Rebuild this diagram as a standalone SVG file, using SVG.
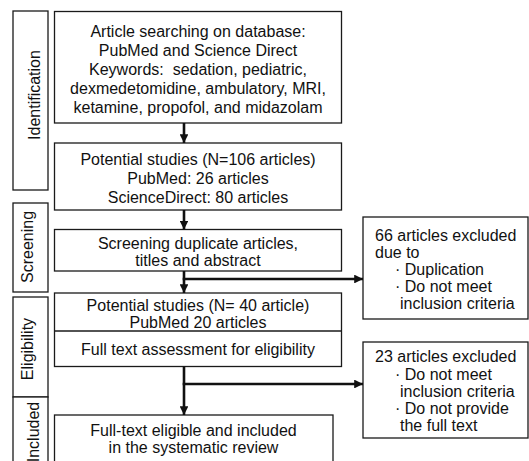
<svg xmlns="http://www.w3.org/2000/svg" width="529" height="461" viewBox="0 0 529 461">
<style>
.box{fill:#fff;stroke:#1a1a1a;stroke-width:1.3}
.t{font-family:"Liberation Sans",Arial,sans-serif;font-size:16px;fill:#111}
.c{text-anchor:middle}
.conn{stroke:#111;stroke-width:2.6;fill:none}
</style>
<defs>
<marker id="ah" viewBox="0 0 10 10" refX="10" refY="5" markerWidth="3.4" markerHeight="3.4" orient="auto" markerUnits="strokeWidth">
<path d="M0,0 L10,5 L0,10 Z" fill="#111"/>
</marker>
</defs>
<rect width="529" height="461" fill="#fff"/>

<g id="stage-identification">
<rect class="box" x="13" y="11" width="35" height="179"/>
<text class="t c" transform="translate(40,95) rotate(-90)">Identification</text>
</g>
<g id="stage-screening">
<rect class="box" x="13" y="203" width="35" height="89"/>
<text class="t c" transform="translate(33,247) rotate(-90)">Screening</text>
</g>
<g id="stage-eligibility">
<rect class="box" x="13" y="297" width="35" height="100"/>
<text class="t c" transform="translate(33,349) rotate(-90)">Eligibility</text>
</g>
<g id="stage-included">
<rect class="box" x="13" y="397" width="35" height="80"/>
<text class="t c" transform="translate(39,432) rotate(-90)">Included</text>
</g>

<g id="search">
<rect class="box" x="54.5" y="11.5" width="287" height="111.5"/>
<text class="t c" x="198" y="36.5">Article searching on database:</text>
<text class="t c" x="198" y="55.5">PubMed and Science Direct</text>
<text class="t c" x="198" y="74.5" xml:space="preserve">Keywords:  sedation, pediatric,</text>
<text class="t c" x="198" y="93.5">dexmedetomidine, ambulatory, MRI,</text>
<text class="t c" x="198" y="112.5">ketamine, propofol, and midazolam</text>
</g>

<g id="potential106">
<rect class="box" x="54.5" y="143" width="287" height="67"/>
<text class="t c" x="198" y="165">Potential studies (N=106 articles)</text>
<text class="t c" x="198" y="184">PubMed: 26 articles</text>
<text class="t c" x="198" y="203">ScienceDirect: 80 articles</text>
</g>

<g id="screening">
<rect class="box" x="54.5" y="229.5" width="287" height="41.5"/>
<text class="t c" x="198" y="248.5">Screening duplicate articles,</text>
<text class="t c" x="198" y="265.5">titles and abstract</text>
</g>

<g id="potential40">
<rect class="box" x="54.5" y="293" width="287" height="73.5"/>
<line x1="54.5" y1="331" x2="341.5" y2="331" stroke="#1a1a1a" stroke-width="1.3"/>
<text class="t c" x="198" y="311">Potential studies (N= 40 article)</text>
<text class="t c" x="198" y="327.5">PubMed 20 articles</text>
<text class="t c" x="198" y="355">Full text assessment for eligibility</text>
</g>

<g id="included">
<rect class="box" x="54.5" y="415" width="278.5" height="60"/>
<text class="t c" x="193.5" y="436">Full-text eligible and included</text>
<text class="t c" x="193.5" y="453">in the systematic review</text>
</g>

<g id="excluded66">
<rect class="box" x="363" y="217" width="165" height="102"/>
<text class="t" x="375" y="240.5">66 articles excluded</text>
<text class="t" x="375" y="257.5">due to</text>
<text class="t" x="395" y="274.5">· Duplication</text>
<text class="t" x="395" y="291.5">· Do not meet</text>
<text class="t" x="400" y="308.5">inclusion criteria</text>
</g>

<g id="excluded23">
<rect class="box" x="363" y="342" width="165" height="96"/>
<text class="t" x="375" y="362">23 articles excluded</text>
<text class="t" x="395" y="379.5">· Do not meet</text>
<text class="t" x="400" y="396.5">inclusion criteria</text>
<text class="t" x="395" y="413.5">· Do not provide</text>
<text class="t" x="400" y="430.5">the full text</text>
</g>

<g id="connectors">
<line class="conn" x1="184" y1="123" x2="184" y2="143" marker-end="url(#ah)"/>
<line class="conn" x1="184" y1="210" x2="184" y2="229.5" marker-end="url(#ah)"/>
<line class="conn" x1="184" y1="271" x2="184" y2="293" marker-end="url(#ah)"/>
<line class="conn" x1="182.7" y1="279" x2="363" y2="279" marker-end="url(#ah)"/>
<line class="conn" x1="184" y1="366.5" x2="184" y2="415" marker-end="url(#ah)"/>
<line class="conn" x1="182.7" y1="384" x2="363" y2="384" marker-end="url(#ah)"/>
</g>
</svg>
